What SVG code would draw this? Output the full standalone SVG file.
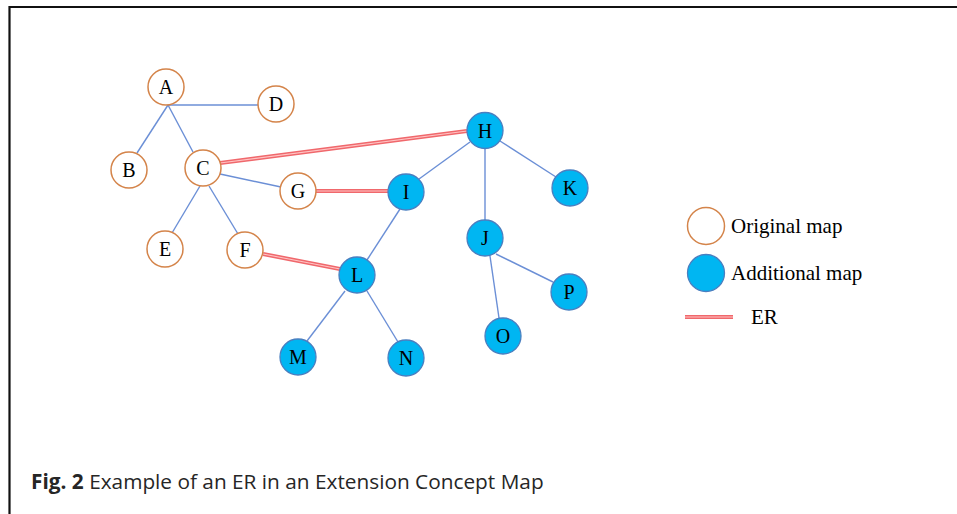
<svg xmlns="http://www.w3.org/2000/svg" width="957" height="514" viewBox="0 0 957 514">
<style>
.orig circle{fill:#fff;stroke:#d4844a;stroke-width:1.5}
.add circle{fill:#00b6f2;stroke:#4a7fc0;stroke-width:1.3}
.lbl{font-family:"Liberation Serif","Times New Roman",serif;font-size:20px;fill:#000;text-anchor:middle}
.edge{stroke:#6b8fd6;stroke-width:1.4;fill:none}
.er{stroke:#f0686c;stroke-width:4.2;fill:none}
.eri{stroke:#ffc4c4;stroke-width:1.1;fill:none}
.leg{font-family:"Liberation Serif","Times New Roman",serif;font-size:21px;fill:#000}
</style>
<rect width="957" height="514" fill="#fff"/>
<path d="M9.5 514 V7 H957" fill="none" stroke="#111" stroke-width="2.2"/>
<g id="connectors">
<line class="edge" x1="168" y1="105" x2="258" y2="105"/>
<line class="edge" x1="168" y1="105" x2="137" y2="153"/>
<line class="edge" x1="168" y1="105" x2="193" y2="152"/>
<line class="edge" x1="200" y1="186" x2="172" y2="233"/>
<line class="edge" x1="209" y1="186" x2="238" y2="234"/>
<line class="edge" x1="220" y1="174" x2="281" y2="187"/>
<line class="edge" x1="470" y1="142" x2="419" y2="179"/>
<line class="edge" x1="485" y1="148" x2="485" y2="220"/>
<line class="edge" x1="500" y1="141" x2="556" y2="177"/>
<line class="edge" x1="400" y1="209" x2="367" y2="260"/>
<line class="edge" x1="490" y1="256" x2="499" y2="318"/>
<line class="edge" x1="496" y1="254" x2="553" y2="282"/>
<line class="edge" x1="345" y1="291" x2="307" y2="341"/>
<line class="edge" x1="367" y1="291" x2="398" y2="342"/>
<g id="er-links">
<line class="er" x1="220" y1="163" x2="467" y2="131"/>
<line class="eri" x1="220" y1="163" x2="467" y2="131"/>
<line class="er" x1="316" y1="191" x2="388" y2="191"/>
<line class="eri" x1="316" y1="191" x2="388" y2="191"/>
<line class="er" x1="263" y1="254" x2="340" y2="269"/>
<line class="eri" x1="263" y1="254" x2="340" y2="269"/>
</g>
</g>
<g id="node-A" class="orig"><circle cx="166" cy="87" r="18"/><text class="lbl" x="166" y="94">A</text></g>
<g id="node-B" class="orig"><circle cx="129" cy="170" r="18"/><text class="lbl" x="129" y="177">B</text></g>
<g id="node-C" class="orig"><circle cx="203" cy="168" r="18"/><text class="lbl" x="203" y="175">C</text></g>
<g id="node-D" class="orig"><circle cx="276" cy="104" r="18"/><text class="lbl" x="276" y="111">D</text></g>
<g id="node-E" class="orig"><circle cx="165" cy="249" r="18"/><text class="lbl" x="165" y="256">E</text></g>
<g id="node-F" class="orig"><circle cx="245" cy="250" r="18"/><text class="lbl" x="245" y="257">F</text></g>
<g id="node-G" class="orig"><circle cx="298" cy="191" r="18"/><text class="lbl" x="298" y="198">G</text></g>
<g id="node-H" class="add"><circle cx="485" cy="130.5" r="18"/><text class="lbl" x="485" y="137.5">H</text></g>
<g id="node-I" class="add"><circle cx="406" cy="192" r="18"/><text class="lbl" x="406" y="199">I</text></g>
<g id="node-J" class="add"><circle cx="485" cy="238" r="18"/><text class="lbl" x="485" y="245">J</text></g>
<g id="node-K" class="add"><circle cx="570" cy="188" r="18"/><text class="lbl" x="570" y="195">K</text></g>
<g id="node-L" class="add"><circle cx="357" cy="275" r="18"/><text class="lbl" x="357" y="282">L</text></g>
<g id="node-M" class="add"><circle cx="298" cy="357" r="18"/><text class="lbl" x="298" y="364">M</text></g>
<g id="node-N" class="add"><circle cx="406" cy="358" r="18"/><text class="lbl" x="406" y="365">N</text></g>
<g id="node-O" class="add"><circle cx="503" cy="336" r="18"/><text class="lbl" x="503" y="343">O</text></g>
<g id="node-P" class="add"><circle cx="569" cy="292" r="18"/><text class="lbl" x="569" y="299">P</text></g>
<g id="legend">
<g class="orig"><circle cx="706" cy="226" r="18.5"/></g>
<text class="leg" x="731" y="233">Original map</text>
<g class="add"><circle cx="706" cy="273" r="18.5"/></g>
<text class="leg" x="731" y="280">Additional map</text>
<line class="er" x1="685" y1="317" x2="733" y2="317"/>
<line class="eri" x1="685" y1="317" x2="733" y2="317"/>
<text class="leg" x="751" y="324">ER</text>
</g>
<text x="31" y="489" font-family="'Open Sans','Noto Sans',sans-serif" font-size="20.8" fill="#262626"><tspan font-weight="bold">Fig. 2</tspan> Example of an ER in an Extension Concept Map</text>
</svg>
